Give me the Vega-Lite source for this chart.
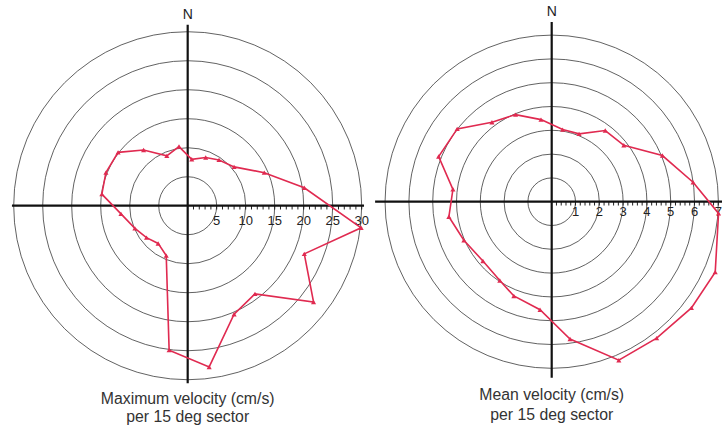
{
  "$schema": "https://vega.github.io/schema/vega-lite/v6.json",
  "width": 722,
  "height": 434,
  "autosize": {"type": "none"},
  "padding": 0,
  "background": "white",
  "config": {"view": {"stroke": null}, "font": "Liberation Sans"},
  "datasets": {
    "maxPoly": [
      {"sector": 1, "east": -1.5, "north": 10.2},
      {"sector": 2, "east": 0.7, "north": 8.0},
      {"sector": 3, "east": 3.1, "north": 8.3},
      {"sector": 4, "east": 5.4, "north": 7.9},
      {"sector": 5, "east": 8.0, "north": 6.7},
      {"sector": 6, "east": 13.2, "north": 5.7},
      {"sector": 7, "east": 20.1, "north": 3.1},
      {"sector": 8, "east": 29.9, "north": -3.8},
      {"sector": 9, "east": 20.1, "north": -8.3},
      {"sector": 10, "east": 21.7, "north": -16.6},
      {"sector": 11, "east": 11.6, "north": -15.2},
      {"sector": 12, "east": 8.0, "north": -18.7},
      {"sector": 13, "east": 3.7, "north": -27.8},
      {"sector": 14, "east": -3.2, "north": -24.9},
      {"sector": 15, "east": -3.7, "north": -8.6},
      {"sector": 16, "east": -5.1, "north": -6.5},
      {"sector": 17, "east": -7.1, "north": -5.5},
      {"sector": 18, "east": -9.1, "north": -3.9},
      {"sector": 19, "east": -11.5, "north": -1.4},
      {"sector": 20, "east": -14.8, "north": 2.0},
      {"sector": 21, "east": -14.1, "north": 5.7},
      {"sector": 22, "east": -12.0, "north": 9.2},
      {"sector": 23, "east": -7.6, "north": 9.6},
      {"sector": 24, "east": -3.6, "north": 8.6}
    ],
    "meanPoly": [
      {"sector": 1, "east": -0.45, "north": 3.45},
      {"sector": 2, "east": 0.46, "north": 3.03},
      {"sector": 3, "east": 1.15, "north": 2.85},
      {"sector": 4, "east": 2.25, "north": 2.99},
      {"sector": 5, "east": 3.03, "north": 2.37},
      {"sector": 6, "east": 4.65, "north": 1.94},
      {"sector": 7, "east": 5.94, "north": 0.82},
      {"sector": 8, "east": 7.01, "north": -0.49},
      {"sector": 9, "east": 6.87, "north": -2.96},
      {"sector": 10, "east": 5.87, "north": -4.46},
      {"sector": 11, "east": 4.41, "north": -5.73},
      {"sector": 12, "east": 2.82, "north": -6.66},
      {"sector": 13, "east": 0.77, "north": -5.77},
      {"sector": 14, "east": -0.49, "north": -4.54},
      {"sector": 15, "east": -1.59, "north": -3.96},
      {"sector": 16, "east": -2.18, "north": -3.31},
      {"sector": 17, "east": -2.89, "north": -2.49},
      {"sector": 18, "east": -3.69, "north": -1.62},
      {"sector": 19, "east": -4.32, "north": -0.63},
      {"sector": 20, "east": -4.15, "north": 0.52},
      {"sector": 21, "east": -4.75, "north": 1.90},
      {"sector": 22, "east": -3.97, "north": 3.06},
      {"sector": 23, "east": -2.51, "north": 3.34},
      {"sector": 24, "east": -1.52, "north": 3.66}
    ],
    "maxRings": [{"r": 5}, {"r": 10}, {"r": 15}, {"r": 20}, {"r": 25}, {"r": 30}],
    "meanRings": [{"r": 1}, {"r": 2}, {"r": 3}, {"r": 4}, {"r": 5}, {"r": 6}, {"r": 7}],
    "maxTicks": [{"v":1},{"v":2},{"v":3},{"v":4},{"v":5},{"v":6},{"v":7},{"v":8},{"v":9},{"v":10},{"v":11},{"v":12},{"v":13},{"v":14},{"v":15},{"v":16},{"v":17},{"v":18},{"v":19},{"v":20},{"v":21},{"v":22},{"v":23},{"v":24},{"v":25},{"v":26},{"v":27},{"v":28},{"v":29},{"v":30}],
    "meanTicks": [{"v":0.2},{"v":0.4},{"v":0.6},{"v":0.8},{"v":1},{"v":1.2},{"v":1.4},{"v":1.6},{"v":1.8},{"v":2},{"v":2.2},{"v":2.4},{"v":2.6},{"v":2.8},{"v":3},{"v":3.2},{"v":3.4},{"v":3.6},{"v":3.8},{"v":4},{"v":4.2},{"v":4.4},{"v":4.6},{"v":4.8},{"v":5},{"v":5.2},{"v":5.4},{"v":5.6},{"v":5.8},{"v":6},{"v":6.2},{"v":6.4},{"v":6.6},{"v":6.8},{"v":7}],
    "maxLabels": [{"v": 5}, {"v": 10}, {"v": 15}, {"v": 20}, {"v": 25}, {"v": 30}],
    "meanLabels": [{"v": 1}, {"v": 2}, {"v": 3}, {"v": 4}, {"v": 5}, {"v": 6}, {"v": 7}]
  },
  "layer": [
    {
      "layer": [
        {
          "data": {"name": "maxRings"},
          "mark": {"type": "arc", "filled": false, "stroke": "#3a3a3a", "strokeWidth": 0.8, "theta": 0, "theta2": 6.2832},
          "encoding": {
            "x": {"datum": 0, "type": "quantitative", "scale": {"domain": [-32.36, 92.12], "nice": false, "zero": false}, "axis": null},
            "y": {"datum": 0, "type": "quantitative", "scale": {"domain": [-39.36, 35.47], "nice": false, "zero": false}, "axis": null},
            "radius": {"field": "r", "type": "quantitative", "stack": null, "scale": {"type": "linear", "domain": [0, 30], "range": [0, 174], "zero": true}}
          }
        },
        {
          "data": {"name": "maxTicks"},
          "mark": {"type": "rule", "stroke": "#222222", "strokeWidth": 1},
          "encoding": {
            "x": {"field": "v", "type": "quantitative", "axis": null},
            "y": {"datum": 0, "type": "quantitative", "axis": null},
            "y2": {"datum": -0.65}
          }
        },
        {
          "data": {"name": "maxLabels"},
          "mark": {"type": "text", "fontSize": 13, "color": "#222222", "baseline": "middle", "align": "center", "dy": 15},
          "encoding": {
            "x": {"field": "v", "type": "quantitative", "axis": null},
            "y": {"datum": 0, "type": "quantitative", "axis": null},
            "text": {"field": "v", "type": "quantitative"}
          }
        },
        {
          "data": {"values": [{}]},
          "mark": {"type": "rule", "stroke": "#111111", "strokeWidth": 2.2},
          "encoding": {
            "x": {"datum": -30.3, "type": "quantitative", "axis": null},
            "x2": {"datum": 30.4},
            "y": {"datum": 0, "type": "quantitative", "axis": null}
          }
        },
        {
          "data": {"values": [{}]},
          "mark": {"type": "rule", "stroke": "#111111", "strokeWidth": 2.2},
          "encoding": {
            "x": {"datum": 0, "type": "quantitative", "axis": null},
            "y": {"datum": 31.2, "type": "quantitative", "axis": null},
            "y2": {"datum": -30.6}
          }
        },
        {
          "data": {"name": "maxPoly"},
          "mark": {"type": "line", "color": "#e02a50", "strokeWidth": 1.6, "interpolate": "linear-closed"},
          "encoding": {
            "x": {"field": "east", "type": "quantitative", "axis": null},
            "y": {"field": "north", "type": "quantitative", "axis": null},
            "order": {"field": "sector", "type": "quantitative"}
          }
        },
        {
          "data": {"name": "maxPoly"},
          "mark": {"type": "point", "shape": "triangle-up", "filled": true, "color": "#e02a50", "size": 26, "opacity": 1},
          "encoding": {
            "x": {"field": "east", "type": "quantitative", "axis": null},
            "y": {"field": "north", "type": "quantitative", "axis": null}
          }
        },
        {
          "data": {"values": [{}]},
          "mark": {"type": "text", "text": "N", "fontSize": 14, "color": "#222222", "baseline": "middle", "align": "center"},
          "encoding": {
            "x": {"datum": 0, "type": "quantitative", "axis": null},
            "y": {"datum": 32.9, "type": "quantitative", "axis": null}
          }
        },
        {
          "data": {"values": [{}]},
          "mark": {"type": "text", "text": ["Maximum velocity (cm/s)", "per 15 deg sector"], "fontSize": 15.8, "lineHeight": 18, "color": "#333333", "baseline": "middle", "align": "center"},
          "encoding": {
            "x": {"datum": 0, "type": "quantitative", "axis": null},
            "y": {"datum": -33.33, "type": "quantitative", "axis": null}
          }
        }
      ]
    },
    {
      "layer": [
        {
          "data": {"name": "meanRings"},
          "mark": {"type": "arc", "filled": false, "stroke": "#3a3a3a", "strokeWidth": 0.8, "theta": 0, "theta2": 6.2832},
          "encoding": {
            "x": {"datum": 0, "type": "quantitative", "scale": {"domain": [-23.18, 7.155], "nice": false, "zero": false}, "axis": null},
            "y": {"datum": 0, "type": "quantitative", "scale": {"domain": [-9.76, 8.475], "nice": false, "zero": false}, "axis": null},
            "radius": {"field": "r", "type": "quantitative", "stack": null, "scale": {"type": "linear", "domain": [0, 7], "range": [0, 166.6], "zero": true}}
          }
        },
        {
          "data": {"name": "meanTicks"},
          "mark": {"type": "rule", "stroke": "#222222", "strokeWidth": 1},
          "encoding": {
            "x": {"field": "v", "type": "quantitative", "axis": null},
            "y": {"datum": 0, "type": "quantitative", "axis": null},
            "y2": {"datum": -0.16}
          }
        },
        {
          "data": {"name": "meanLabels"},
          "mark": {"type": "text", "fontSize": 13, "color": "#222222", "baseline": "middle", "align": "center", "dy": 10},
          "encoding": {
            "x": {"field": "v", "type": "quantitative", "axis": null},
            "y": {"datum": 0, "type": "quantitative", "axis": null},
            "text": {"field": "v", "type": "quantitative"}
          }
        },
        {
          "data": {"values": [{}]},
          "mark": {"type": "rule", "stroke": "#111111", "strokeWidth": 2.2},
          "encoding": {
            "x": {"datum": -7.42, "type": "quantitative", "axis": null},
            "x2": {"datum": 7.2},
            "y": {"datum": 0, "type": "quantitative", "axis": null}
          }
        },
        {
          "data": {"values": [{}]},
          "mark": {"type": "rule", "stroke": "#111111", "strokeWidth": 2.2},
          "encoding": {
            "x": {"datum": 0, "type": "quantitative", "axis": null},
            "y": {"datum": 7.55, "type": "quantitative", "axis": null},
            "y2": {"datum": -7.4}
          }
        },
        {
          "data": {"name": "meanPoly"},
          "mark": {"type": "line", "color": "#e02a50", "strokeWidth": 1.6, "interpolate": "linear-closed"},
          "encoding": {
            "x": {"field": "east", "type": "quantitative", "axis": null},
            "y": {"field": "north", "type": "quantitative", "axis": null},
            "order": {"field": "sector", "type": "quantitative"}
          }
        },
        {
          "data": {"name": "meanPoly"},
          "mark": {"type": "point", "shape": "triangle-up", "filled": true, "color": "#e02a50", "size": 26, "opacity": 1},
          "encoding": {
            "x": {"field": "east", "type": "quantitative", "axis": null},
            "y": {"field": "north", "type": "quantitative", "axis": null}
          }
        },
        {
          "data": {"values": [{}]},
          "mark": {"type": "text", "text": "N", "fontSize": 14, "color": "#222222", "baseline": "middle", "align": "center"},
          "encoding": {
            "x": {"datum": 0, "type": "quantitative", "axis": null},
            "y": {"datum": 7.97, "type": "quantitative", "axis": null}
          }
        },
        {
          "data": {"values": [{}]},
          "mark": {"type": "text", "text": ["Mean velocity (cm/s)", "per 15 deg sector"], "fontSize": 15.8, "lineHeight": 20, "color": "#333333", "baseline": "middle", "align": "center"},
          "encoding": {
            "x": {"datum": 0, "type": "quantitative", "axis": null},
            "y": {"datum": -8.12, "type": "quantitative", "axis": null}
          }
        }
      ]
    }
  ],
  "resolve": {
    "scale": {"x": "independent", "y": "independent", "radius": "independent"},
    "axis": {"x": "independent", "y": "independent"}
  }
}
